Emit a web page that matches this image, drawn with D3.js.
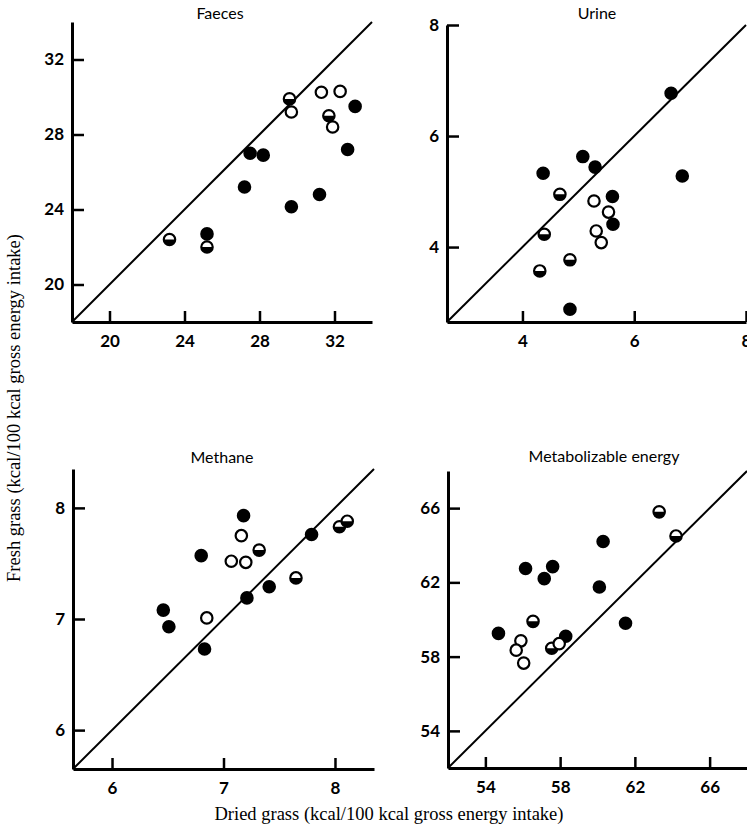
<!DOCTYPE html>
<html>
<head>
<meta charset="utf-8">
<script src="https://cdn.jsdelivr.net/npm/d3@7"></script>
<style>
body{margin:0;background:#fff;}
svg{display:block;}
.ttl{font-family:Lato,"Open Sans",sans-serif;font-size:16px;}
.lab{font-family:"Liberation Serif","DejaVu Serif",serif;font-size:18.5px;}
</style>
</head>
<body>
<svg width="747" height="830"></svg>
<script>
// f = filled, o = open, h = half filled
var faecesDried = [23.2,25.2,25.2,27.2,27.5,28.2,29.7,29.6,29.7,31.2,31.3,31.7,31.9,32.3,32.7,33.1];
var faecesFresh = [22.4,22.0,22.7,25.2,27.0,26.9,24.15,29.9,29.2,24.8,30.25,29.0,28.4,30.3,27.2,29.5];
var faecesType  = ['h','h','f','f','f','f','f','h','o','f','o','h','o','o','f','f'];

var urineDried = [6.66,5.08,5.30,4.37,6.86,4.67,5.28,5.61,5.54,5.62,4.39,5.32,5.41,4.85,4.31,4.85];
var urineFresh = [6.77,5.63,5.44,5.33,5.28,4.95,4.83,4.91,4.63,4.41,4.23,4.29,4.08,3.77,3.57,2.88];
var urineType  = ['f','f','f','f','f','h','o','f','o','f','h','o','o','h','h','f'];

var methaneDried = [7.18,7.16,6.80,7.07,7.20,7.32,6.46,6.51,6.85,6.83,7.21,7.41,7.65,7.79,8.04,8.11];
var methaneFresh = [7.93,7.75,7.57,7.52,7.51,7.62,7.08,6.93,7.01,6.73,7.19,7.29,7.37,7.76,7.83,7.88];
var methaneType  = ['f','o','f','o','o','h','f','f','o','f','f','f','h','f','h','h'];

var meDried = [63.3,64.2,60.3,56.15,57.6,57.15,60.1,61.5,56.55,54.7,58.3,55.9,55.65,56.05,57.55,57.95];
var meFresh = [65.8,64.5,64.2,62.75,62.85,62.2,61.75,59.8,59.9,59.25,59.1,58.85,58.35,57.65,58.45,58.7];
var meType  = ['h','h','f','f','f','f','f','f','h','f','f','o','o','o','h','o'];

var panels = [
  {title:'Faeces', xs:faecesDried, ys:faecesFresh, t:faecesType, dom:[18,34], ticks:[20,24,28,32],
   x0:72, x1:372, y0:322, y1:22, tx:220, ty:19},
  {title:'Urine', xs:urineDried, ys:urineFresh, t:urineType, dom:[2.65,8], ticks:[4,6,8],
   x0:447, x1:746, y0:322, y1:25, tx:597, ty:19},
  {title:'Methane', xs:methaneDried, ys:methaneFresh, t:methaneType, dom:[5.65,8.35], ticks:[6,7,8],
   x0:73, x1:374, y0:769, y1:469, tx:222, ty:463},
  {title:'Metabolizable energy', xs:meDried, ys:meFresh, t:meType, dom:[52,68], ticks:[54,58,62,66],
   x0:448, x1:747, y0:768, y1:471, tx:604, ty:462}
];

var svg = d3.select('svg');
var R = 5.7;

panels.forEach(function(p){
  var x = d3.scaleLinear().domain(p.dom).range([p.x0,p.x1]);
  var y = d3.scaleLinear().domain(p.dom).range([p.y0,p.y1]);
  var g = svg.append('g');

  var ax = g.append('g').attr('transform','translate(0,'+p.y0+')')
    .call(d3.axisBottom(x).tickValues(p.ticks).tickSizeInner(-11).tickSizeOuter(0).tickPadding(9).tickFormat(d3.format('d')));
  var ay = g.append('g').attr('transform','translate('+p.x0+',0)')
    .call(d3.axisLeft(y).tickValues(p.ticks).tickSizeInner(-12).tickSizeOuter(0).tickPadding(8).tickFormat(d3.format('d')));
  [ax,ay].forEach(function(a){
    a.attr('font-family','Lato, "Open Sans", sans-serif').attr('font-size',17).attr('font-weight',700);
    a.select('.domain').attr('stroke','#000').attr('stroke-width',3);
    a.selectAll('.tick line').attr('stroke','#000').attr('stroke-width',2.5);
  });
  ax.selectAll('.tick text').attr('dy','0.95em');

  // line of equality
  g.append('line')
    .attr('x1',x(p.dom[0])).attr('y1',y(p.dom[0]))
    .attr('x2',x(p.dom[1])).attr('y2',y(p.dom[1]))
    .attr('stroke','#000').attr('stroke-width',2);

  g.append('text').attr('class','ttl').attr('x',p.tx).attr('y',p.ty)
    .attr('text-anchor','middle').text(p.title);

  var pts = g.selectAll('.pt').data(d3.range(p.xs.length)).enter().append('g')
    .attr('transform',function(i){return 'translate('+x(p.xs[i])+','+y(p.ys[i])+')';});
  pts.append('circle').attr('r',R)
    .attr('fill',function(i){return p.t[i]=='f' ? '#000' : '#fff';})
    .attr('stroke','#000').attr('stroke-width',2.2);
  pts.filter(function(i){return p.t[i]=='h';}).append('path')
    .attr('d','M'+(-R)+',0A'+R+','+R+' 0 0 0 '+R+',0Z')
    .attr('fill','#000');
});

svg.append('text').attr('class','lab')
  .attr('transform','translate(20,408) rotate(-90)')
  .attr('text-anchor','middle').text('Fresh grass (kcal/100 kcal gross energy intake)');
svg.append('text').attr('class','lab')
  .attr('x',389).attr('y',820)
  .attr('text-anchor','middle').text('Dried grass (kcal/100 kcal gross energy intake)');
</script>
</body>
</html>
